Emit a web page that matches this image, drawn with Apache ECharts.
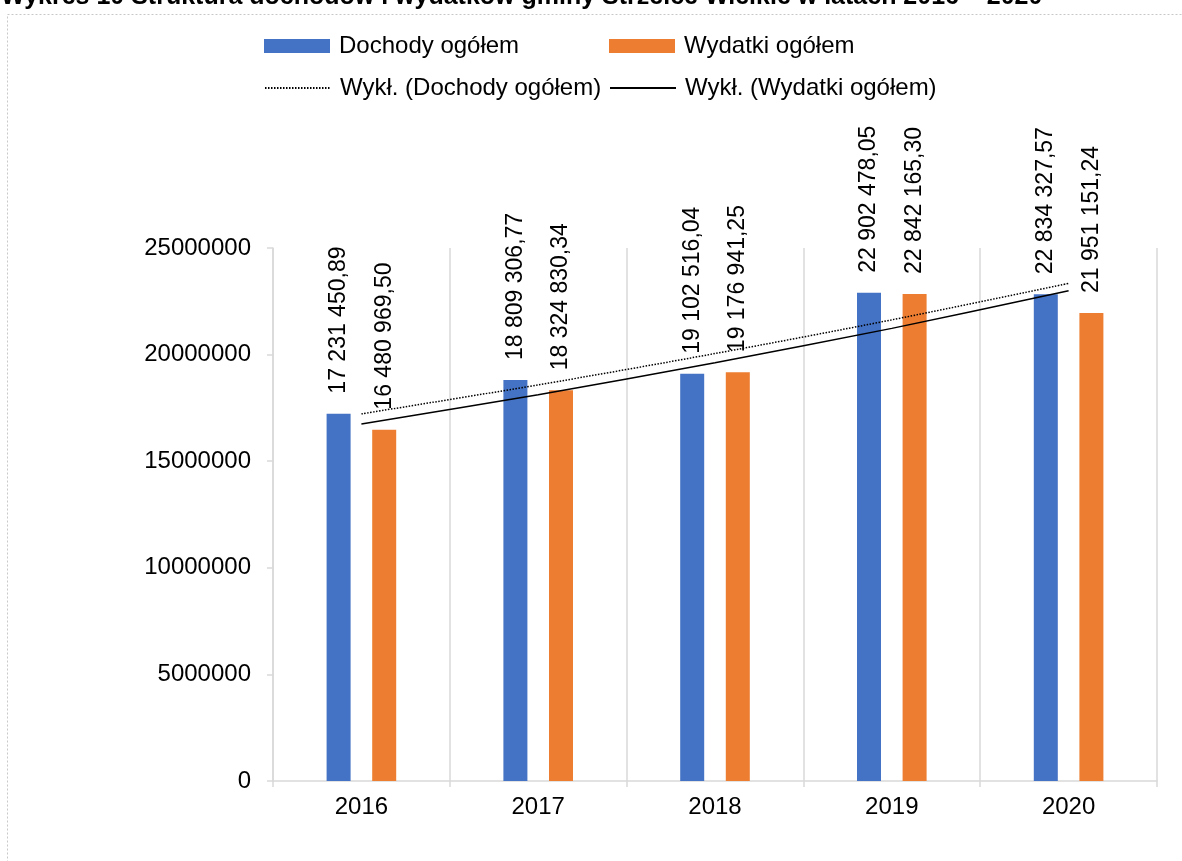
<!DOCTYPE html>
<html>
<head>
<meta charset="utf-8">
<script src="https://cdn.jsdelivr.net/npm/echarts@6/dist/echarts.min.js"></script>
<style>
html,body{margin:0;padding:0;background:#fff;}
#c{width:1182px;height:861px;}
</style>
</head>
<body>
<div id="c"></div>
<script>
var titleText = 'Wykres 10 Struktura dochodów i wydatków gminy Strzelce Wielkie w latach 2016 – 2020';
var categories = ['2016', '2017', '2018', '2019', '2020'];
var dochody = [17231450.89, 18809306.77, 19102516.04, 22902478.05, 22834327.57];
var wydatki = [16480969.50, 18324830.34, 19176941.25, 22842165.30, 21951151.24];
// trend values (exponential trend lines)
var trendDochody = [17220000, 18580000, 20050000, 21630000, 23340000];
var trendWydatki = [16740000, 18120000, 19620000, 21230000, 22990000];
var yTicks = [0, 5000000, 10000000, 15000000, 20000000, 25000000];
var seriesNames = ['Dochody ogółem', 'Wydatki ogółem', 'Wykł. (Dochody ogółem)', 'Wykł. (Wydatki ogółem)'];

var FONT = '"Liberation Sans", Arial, sans-serif';
var FS = 23;
var FS_AX = 24;

function fmt(v) {
  var parts = v.toFixed(2).split('.');
  var intPart = parts[0].replace(/\B(?=(\d{3})+(?!\d))/g, ' ');
  return intPart + ',' + parts[1];
}

var chart = echarts.init(document.getElementById('c'), null, {renderer: 'canvas'});

function legendAt(name, left, top, isLine) {
  var l = {
    data: [name], left: left, top: top, orient: 'horizontal',
    itemWidth: 66, itemHeight: 14, itemGap: 0, padding: 0,
    textStyle: {fontFamily: FONT, fontSize: FS_AX, color: '#000', padding: [0, 0, 0, 4]},
    selectedMode: false
  };
  if (isLine) {
    l.itemStyle = {opacity: 0, borderWidth: 0};
  } else {
    l.icon = 'rect';
  }
  return l;
}

var labelCommon = {
  show: true, position: 'top', rotate: 90, align: 'left', verticalAlign: 'middle',
  distance: 20, fontFamily: FONT, fontSize: FS, color: '#000',
  formatter: function (p) { return fmt(p.value); }
};

chart.setOption({
  animation: false,
  backgroundColor: '#fff',
  textStyle: {fontFamily: FONT},
  graphic: [
    {type: 'rect', shape: {x: 7.5, y: 14.5, width: 1300, height: 1000},
     style: {fill: 'none', stroke: '#c8c8c8', lineWidth: 1, lineDash: [2, 2]}, silent: true},
    {type: 'text', x: 1, y: 10,
     style: {text: titleText, font: 'bold 25px ' + FONT, fill: '#000', textVerticalAlign: 'bottom'}}
  ],
  legend: [
    legendAt(seriesNames[0], 264, 34, false),
    legendAt(seriesNames[1], 609, 34, false),
    legendAt(seriesNames[2], 264, 76, true),
    legendAt(seriesNames[3], 609, 76, true)
  ],
  grid: {left: 273, right: 25, top: 248, bottom: 80, containLabel: false},
  xAxis: {
    type: 'category', data: categories,
    axisLine: {show: true, lineStyle: {color: '#d9d9d9', width: 1.5}},
    axisTick: {show: true, length: 6, lineStyle: {color: '#d9d9d9', width: 1.5}},
    splitLine: {show: true, lineStyle: {color: '#d9d9d9', width: 1.5}},
    axisLabel: {fontFamily: FONT, fontSize: FS_AX, color: '#000', margin: 14}
  },
  yAxis: {
    type: 'value', min: yTicks[0], max: yTicks[yTicks.length - 1], interval: yTicks[1] - yTicks[0],
    axisLine: {show: true, lineStyle: {color: '#d9d9d9', width: 1.5}},
    axisTick: {show: true, length: 6, lineStyle: {color: '#d9d9d9', width: 1.5}},
    splitLine: {show: false},
    axisLabel: {fontFamily: FONT, fontSize: FS_AX, color: '#000', margin: 22,
                formatter: function (v) { return String(v); }}
  },
  series: [
    {name: seriesNames[0], type: 'bar', data: dochody, barWidth: 24, barGap: '90%',
     itemStyle: {color: '#4472C4'}, label: labelCommon, z: 2},
    {name: seriesNames[1], type: 'bar', data: wydatki, barWidth: 24, barGap: '90%',
     itemStyle: {color: '#ED7D31'}, label: labelCommon, z: 2},
    {name: seriesNames[2], type: 'line', data: trendDochody, symbol: 'none', smooth: 0.3,
     lineStyle: {color: '#000', width: 1.5, type: [1.5, 1.5]}, itemStyle: {color: '#000'}, z: 5},
    {name: seriesNames[3], type: 'line', data: trendWydatki, symbol: 'none', smooth: 0.3,
     lineStyle: {color: '#000', width: 1.5, type: 'solid'}, itemStyle: {color: '#000'}, z: 5}
  ]
});
</script>
</body>
</html>
